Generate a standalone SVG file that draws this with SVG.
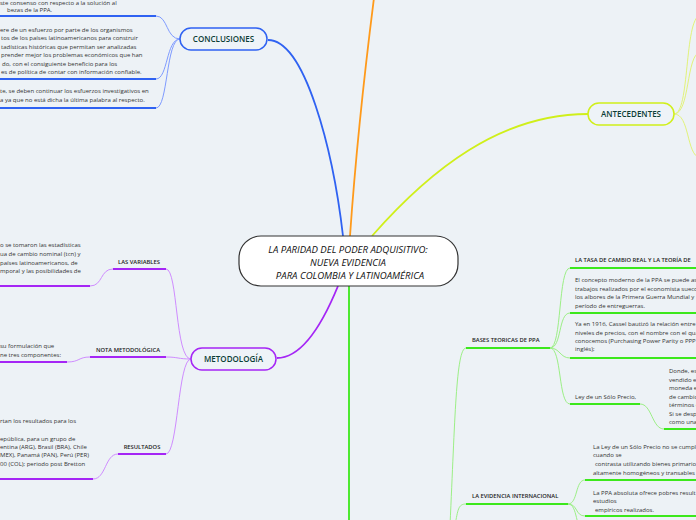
<svg xmlns="http://www.w3.org/2000/svg" width="696" height="520" viewBox="0 0 696 520">
<style>
.bg{fill:#edf2f6}
.t{font-family:"Open Sans","DejaVu Sans",sans-serif;font-size:6px;fill:#333}
.lb{font-family:"Open Sans","DejaVu Sans",sans-serif;font-size:5.8px;font-weight:600;fill:#222}
.nl{font-family:"Open Sans","DejaVu Sans",sans-serif;font-size:8px;font-weight:600;fill:#0b3d36;text-anchor:middle}
.ct{font-family:"Open Sans","DejaVu Sans",sans-serif;font-size:9.6px;font-style:italic;fill:#111;text-anchor:middle}
.thin{fill:none;stroke-width:1}
.main{fill:none;stroke-width:1.8}
.ul{fill:none;stroke-width:2}
.b1{stroke:#2f62f2}.b2{stroke:#7f9bff}
.p1{stroke:#a526f5}.p2{stroke:#cf8cff}
.g1{stroke:#3ce81c}.g2{stroke:#9cef86}
.y1{stroke:#d0ef1a}.y2{stroke:#e2f27a}
.o1{stroke:#ff9a1a}
</style>
<rect class="bg" x="0" y="0" width="696" height="520"/>
<g id="connectors">
  <path class="main b1" d="M343 236 C333 150 305 40 268 40"/>
  <path class="main o1" d="M350 236 C356 150 366 60 375 -10"/>
  <path class="main y1" d="M372 236 C430 170 500 114 588 114"/>
  <path class="main g1" d="M349 286 L349 522"/>
  <path class="main p1" d="M338 286 C320 330 300 358 277 358"/>
  <path class="thin b2" d="M180 39 C166 39 168 16 156 16"/>
  <path class="thin b2" d="M180 39 C166 39 168 79 156 79"/>
  <path class="thin b2" d="M180 39 C166 39 168 108 156 108"/>
  <path class="ul b1" d="M-2 16 H156 M-2 79 H156 M-2 108 H156"/>
  <path class="thin y2" d="M674 114 C690 114 684 20 700 15"/>
  <path class="thin y2" d="M674 114 C690 114 686 55 700 52"/>
  <path class="thin y2" d="M674 114 C690 114 686 155 700 158"/>
  <path class="thin p2" d="M191 359 C175 359 178 269 166 269"/>
  <path class="thin p2" d="M191 359 C178 359 178 357 166 357"/>
  <path class="thin p2" d="M191 359 C178 359 178 454 166 454"/>
  <path class="thin p2" d="M113 269 C100 269 103 286 90 286"/>
  <path class="thin p2" d="M90 357 C78 357 80 362 67 362"/>
  <path class="thin p2" d="M118 454 C105 454 106 479 93 479"/>
  <path class="ul p1" d="M113 269 H166 M-2 286 H90 M90 357 H166 M-2 362 H67 M118 454 H166 M-2 479 H93"/>
  <path class="thin g2" d="M450 525 C455 420 456 348 466 348"/>
  <path class="thin g2" d="M455 525 C458 510 458 504 466 504"/>
  <path class="thin g2" d="M550 348 C562 348 558 268 570 268"/>
  <path class="thin g2" d="M550 348 C562 348 558 313 570 313"/>
  <path class="thin g2" d="M550 348 C560 348 560 358 570 358"/>
  <path class="thin g2" d="M550 348 C562 348 558 404 570 404"/>
  <path class="thin g2" d="M640 404 C652 404 652 429 664 429"/>
  <path class="thin g2" d="M568 504 C578 504 575 480 585 480"/>
  <path class="thin g2" d="M568 504 C578 504 575 516 585 516"/>
  <path class="thin g2" d="M568 504 C578 504 575 530 585 535"/>
  <path class="ul g1" d="M466 348 H550 M466 504 H568 M570 268 H698 M570 313 H698 M570 358 H698 M570 404 H640 M664 429 H698 M585 480 H698 M585 516 H698"/>
</g>
<g id="central">
  <rect x="239" y="236" width="219" height="50" rx="22" fill="#fff" stroke="#333" stroke-width="1.2"/>
  <text class="ct" x="348" y="252.5">LA PARIDAD DEL PODER ADQUISITIVO:</text>
  <text class="ct" x="348" y="265.5">NUEVA EVIDENCIA</text>
  <text class="ct" x="350" y="278.5">PARA COLOMBIA Y LATINOAMÉRICA</text>
</g>
<g id="conclusiones">
  <rect x="180" y="28" width="87" height="22" rx="11" fill="#eef3f8" stroke="#2f62f2" stroke-width="1.5"/>
  <text class="nl" x="223.5" y="42">CONCLUSIONES</text>
</g>
<g id="conc-1">
  <text class="t" x="0" y="5">ste consenso con respecto a la solución al</text>
  <text class="t" x="7" y="12">bezas de la PPA.</text>
</g>
<g id="conc-2">
  <text class="t" x="0" y="31.5">ere de un esfuerzo por parte de los organismos</text>
  <text class="t" x="1" y="40">tos de los países latinoamericanos para construir</text>
  <text class="t" x="1" y="48.5">tadísticas históricas que permitan ser analizadas</text>
  <text class="t" x="1" y="57">prender mejor los problemas económicos que han</text>
  <text class="t" x="2" y="65.5">do, con el consiguiente beneficio para los</text>
  <text class="t" x="1" y="74">es de política de contar con información confiable.</text>
</g>
<g id="conc-3">
  <text class="t" x="0" y="93">te, se deben continuar los esfuerzos investigativos en</text>
  <text class="t" x="0" y="102">a ya que no está dicha la última palabra al respecto.</text>
</g>
<g id="antecedentes">
  <rect x="588" y="103" width="86" height="22" rx="11" fill="#eef3f8" stroke="#d0ef1a" stroke-width="1.5"/>
  <text class="nl" x="631" y="117">ANTECEDENTES</text>
</g>
<g id="metodologia">
  <rect x="191" y="348" width="85" height="22" rx="11" fill="#eef3f8" stroke="#a526f5" stroke-width="1.5"/>
  <text class="nl" x="233.5" y="362">METODOLOGÍA</text>
</g>
<g id="las-variables">
  <text class="lb" x="139" y="264" text-anchor="middle">LAS VARIABLES</text>
</g>
<g id="variables-text">
  <text class="t" x="0" y="247">o se tomaron las estadísticas</text>
  <text class="t" x="0" y="255.5">ua de cambio nominal (tcn) y</text>
  <text class="t" x="0" y="264.5">países latinoamericanos, de</text>
  <text class="t" x="0" y="273">mporal y las posibilidades de</text>
</g>
<g id="nota">
  <text class="lb" x="128" y="351.5" text-anchor="middle">NOTA METODOLÓGICA</text>
</g>
<g id="nota-text">
  <text class="t" x="0" y="348">su formulación que</text>
  <text class="t" x="0" y="356.5">ne tres componentes:</text>
</g>
<g id="resultados">
  <text class="lb" x="142" y="449" text-anchor="middle">RESULTADOS</text>
</g>
<g id="resultados-text">
  <text class="t" x="0" y="423">rtan los resultados para los</text>
  <text class="t" x="0" y="440.5">epública, para un grupo de</text>
  <text class="t" x="0" y="448.5">entina (ARG), Brasil (BRA), Chile</text>
  <text class="t" x="0" y="457">MEX), Panamá (PAN), Perú (PER)</text>
  <text class="t" x="0" y="466">00 (COL); periodo post Bretton</text>
</g>
<g id="bases">
  <text class="lb" x="472" y="342">BASES TEORICAS DE PPA</text>
</g>
<g id="tasa">
  <text class="lb" x="575" y="262" font-weight="400">LA TASA DE CAMBIO REAL Y LA TEORÍA DE</text>
</g>
<g id="concepto">
  <text class="t" x="575" y="282">El concepto moderno de la PPA se puede as</text>
  <text class="t" x="575" y="290.5">trabajos realizados por el economista sueco</text>
  <text class="t" x="575" y="299">los albores de la Primera Guerra Mundial y</text>
  <text class="t" x="575" y="308">período de entreguerras.</text>
</g>
<g id="cassel">
  <text class="t" x="575" y="326">Ya en 1916, Cassel bautizó la relación entre</text>
  <text class="t" x="575" y="334.5">niveles de precios, con el nombre con el qua</text>
  <text class="t" x="575" y="343">conocemos (Purchasing Power Parity o PPP</text>
  <text class="t" x="575" y="351">inglés);</text>
</g>
<g id="ley">
  <text class="t" x="575" y="399">Ley de un Sólo Precio,</text>
</g>
<g id="donde">
  <text class="t" x="669" y="373">Donde, es</text>
  <text class="t" x="669" y="381.5">vendido e</text>
  <text class="t" x="669" y="390">moneda e</text>
  <text class="t" x="669" y="399">de cambio</text>
  <text class="t" x="669" y="407">términos c</text>
  <text class="t" x="669" y="415.5">Si se desp</text>
  <text class="t" x="669" y="424">como una</text>
</g>
<g id="evidencia">
  <text class="lb" x="472" y="498">LA EVIDENCIA INTERNACIONAL</text>
</g>
<g id="ley-no">
  <text class="t" x="593" y="449">La Ley de un Sólo Precio no se cumple</text>
  <text class="t" x="593" y="457">cuando se</text>
  <text class="t" x="595" y="466">contrasta utilizando bienes primarios</text>
  <text class="t" x="593" y="474.5">altamente homogéneos y transables</text>
</g>
<g id="ppa-absoluta">
  <text class="t" x="593" y="494.5">La PPA absoluta ofrece pobres result</text>
  <text class="t" x="593" y="503">estudios</text>
  <text class="t" x="595" y="511.5">empíricos realizados.</text>
</g>
</svg>
